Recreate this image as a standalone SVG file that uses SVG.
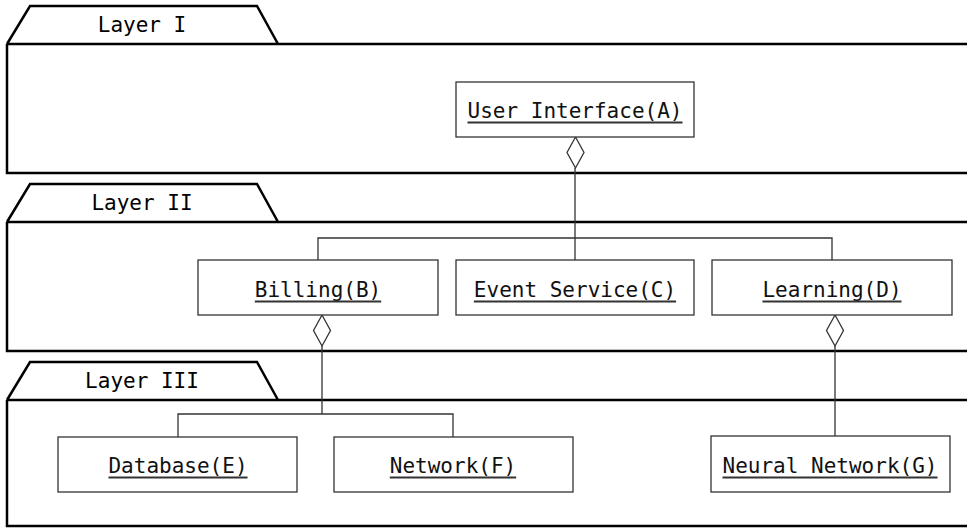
<svg xmlns="http://www.w3.org/2000/svg" width="967" height="529" viewBox="0 0 967 529">
<style>
.layer{fill:none;stroke:#000;stroke-width:2.5;stroke-linejoin:miter}
.box{fill:#fff;stroke:#333;stroke-width:1.3}
.lbl{font-family:"DejaVu Sans Mono",monospace;font-size:21px;fill:#000;text-anchor:middle}
.nl{font-family:"DejaVu Sans Mono",monospace;font-size:21px;fill:#111;text-anchor:middle}
.ul{stroke:#333;stroke-width:1.8}
.con{fill:none;stroke:#333;stroke-width:1.3}
.dia{fill:#fff;stroke:#333;stroke-width:1.3}
</style>
<rect width="967" height="529" fill="#fff"/>
<g id="layer1">
<path class="layer" d="M7,44 L30,6 L257,6 L278,44 M7,44 L970,44 M7,44 L7,173 L970,173"/>
<text class="lbl" x="142" y="32">Layer I</text>
</g>
<g id="layer2">
<path class="layer" d="M7,222 L30,184 L257,184 L278,222 M7,222 L970,222 M7,222 L7,351 L970,351"/>
<text class="lbl" x="142" y="210">Layer II</text>
</g>
<g id="layer3">
<path class="layer" d="M7,400 L30,362 L257,362 L278,400 M7,400 L970,400 M7,400 L7,526 L970,526"/>
<text class="lbl" x="142" y="388">Layer III</text>
</g>
<g id="connectors">
<path class="con" d="M575,168 L575,260 M318,260 L318,238 L832,238 L832,260"/>
<path class="con" d="M322,346 L322,414 M178,437 L178,414 L453,414 L453,437"/>
<path class="con" d="M835,346 L835,436"/>
<path class="dia" d="M575.5,137 L584,152.5 L575.5,168 L567,152.5 Z"/>
<path class="dia" d="M322,315 L330.5,330.5 L322,346 L313.5,330.5 Z"/>
<path class="dia" d="M835,315 L843.5,330.5 L835,346 L826.5,330.5 Z"/>
</g>
<g id="A"><rect class="box" x="456" y="82" width="238" height="55"/><text class="nl" x="575" y="118">User Interface(A)</text><line class="ul" x1="467.5" y1="122.5" x2="682.5" y2="122.5"/></g>
<g id="B"><rect class="box" x="198" y="260" width="240" height="55"/><text class="nl" x="318" y="297">Billing(B)</text><line class="ul" x1="254.8" y1="301.5" x2="381.2" y2="301.5"/></g>
<g id="C"><rect class="box" x="456" y="260" width="238" height="55"/><text class="nl" x="575" y="297">Event Service(C)</text><line class="ul" x1="473.9" y1="301.5" x2="676.1" y2="301.5"/></g>
<g id="D"><rect class="box" x="712" y="260" width="240" height="55"/><text class="nl" x="832" y="297">Learning(D)</text><line class="ul" x1="762.5" y1="301.5" x2="901.5" y2="301.5"/></g>
<g id="E"><rect class="box" x="58" y="437" width="239" height="55"/><text class="nl" x="178" y="473">Database(E)</text><line class="ul" x1="108.5" y1="477.5" x2="247.5" y2="477.5"/></g>
<g id="F"><rect class="box" x="334" y="437" width="239" height="55"/><text class="nl" x="453" y="473">Network(F)</text><line class="ul" x1="389.8" y1="477.5" x2="516.2" y2="477.5"/></g>
<g id="G"><rect class="box" x="711" y="436" width="239" height="56"/><text class="nl" x="830" y="473">Neural Network(G)</text><line class="ul" x1="722.5" y1="477.5" x2="937.5" y2="477.5"/></g>
</svg>
